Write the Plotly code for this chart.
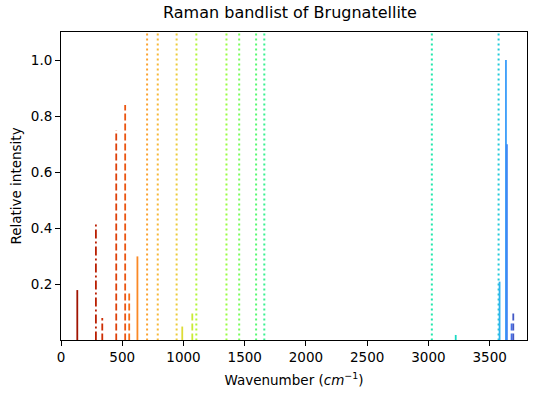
import plotly.graph_objects as go
from plotly.colors import sample_colorscale

# Band data (None = intensity not given -> drawn full height, dotted)
wavenumbers = [133, 285, 337, 451, 524, 557, 624, 703, 790, 944, 990, 1072, 1105,
               1351, 1455, 1593, 1660, 3028, 3223, 3573, 3581, 3633, 3641, 3679, 3693]
intensities = [0.18, 0.42, 0.08, 0.75, 0.84, 0.17, 0.30, None, None, None, 0.05, 0.10, None,
               None, None, None, None, None, 0.02, None, 0.21, 1.00, 0.70, 0.07, 0.10]
linestyles = ['-', '-.', '--', '--', '--', '--', '-', ':', ':', ':', '-', '--', ':',
              ':', ':', ':', ':', ':', '-', ':', '-', '-', '-', '--', '--']

x_ticks = [0, 500, 1000, 1500, 2000, 2500, 3000, 3500]
y_ticks = [0.2, 0.4, 0.6, 0.8, 1.0]
x_range = [0, 3805]
y_range = [0.002, 1.1]

dash_map = {'-': 'solid', '--': '7px,3px', '-.': '9px,3px,2px,3px', ':': '2px,3px'}

n = len(wavenumbers)
cvals = [0.95 - 0.85 * i / (n - 1) for i in range(n)]
colors = sample_colorscale('Turbo', cvals)

fig = go.Figure()
for wn, inten, ls, col in zip(wavenumbers, intensities, linestyles, colors):
    top = y_range[1] if inten is None else inten
    fig.add_trace(go.Scatter(
        x=[wn, wn], y=[0, top], mode='lines',
        line=dict(color=col, width=2 if ls == ':' else 1.8, dash=dash_map[ls]),
        showlegend=False, hoverinfo='x+y'))

font = dict(family='DejaVu Sans, sans-serif', size=13.5, color='black')
axis_common = dict(showline=True, mirror=True, linecolor='black', linewidth=1,
                   ticks='outside', ticklen=5, tickwidth=1, tickcolor='black',
                   showgrid=False, zeroline=False, tickfont=font, automargin=False)

W, H = 536, 399
fig.update_layout(
    width=W, height=H,
    margin=dict(l=61, r=9, t=32, b=59, autoexpand=False),
    paper_bgcolor='white', plot_bgcolor='white',
    font=font,
    title=dict(text='Raman bandlist of Brugnatellite', x=290 / W, xanchor='center',
               xref='container', y=1 - 12.5 / H, yanchor='middle', yref='container',
               font=dict(family='DejaVu Sans, sans-serif', size=16, color='black')),
    xaxis=dict(range=x_range, tickvals=x_ticks, ticktext=[str(t) for t in x_ticks],
               title=dict(text='Wavenumber (<i>cm</i><sup>−1</sup>)', font=font, standoff=11),
               **axis_common),
    yaxis=dict(range=y_range, tickvals=y_ticks, ticktext=[f'{t:.1f}' for t in y_ticks],
               title=dict(text='Relative intensity', font=font, standoff=6),
               **axis_common),
)

fig.write_html('out.html', config={'displayModeBar': False},
               post_script="document.body.style.margin='0';document.body.style.padding='0';")
